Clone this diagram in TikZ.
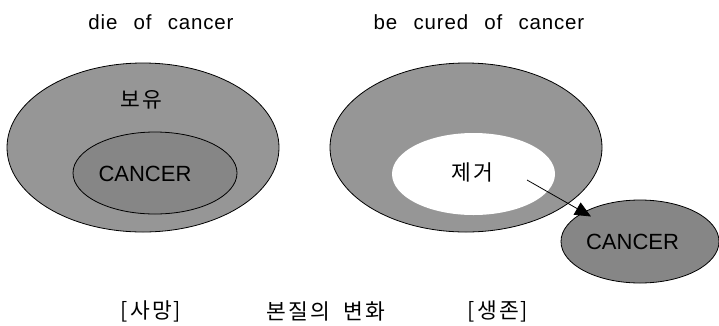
\documentclass[tikz,border=0pt]{standalone}
\usepackage{fontspec}
\setmainfont{Liberation Sans}
\newfontfamily\kofont{Noto Sans CJK KR}[LetterSpace=10,WordSpace=2]
\newfontfamily\latfont{Liberation Sans}[LetterSpace=4,WordSpace=2.5]
\usetikzlibrary{shapes.geometric,arrows.meta}
\definecolor{outergray}{RGB}{150,150,150}
\definecolor{innergray}{RGB}{134,134,134}
\tikzset{
  blob/.style={ellipse,draw=black,line width=0.8pt,inner sep=0pt},
  title/.style={font=\latfont\fontsize{20.5}{24}\selectfont,inner sep=0pt},
  kolabel/.style={font=\kofont\fontsize{21.5}{26}\selectfont,inner sep=0pt},
  caplabel/.style={font=\fontsize{22}{26}\selectfont,inner sep=0pt},
  link/.style={line width=0.8pt,-{Triangle[length=16pt,width=14pt]}}
}
\begin{document}
\begin{tikzpicture}[x=1pt,y=-1pt]
\useasboundingbox (0,0) rectangle (719,325);
% titles
\node[title] (t1) at (161,22) {die of cancer};
\node[title] (t2) at (479,22) {be cured of cancer};
% left
\node[blob,fill=outergray,minimum width=272pt,minimum height=169pt] (lbig) at (143,147.5) {};
\node[blob,fill=innergray,minimum width=164pt,minimum height=82pt] (lin) at (155,173) {};
\node[kolabel] (boyu) at (141,100) {보유};
\node[caplabel] (lc) at (145,174) {CANCER};
% right
\node[blob,fill=outergray,minimum width=272pt,minimum height=169pt] (rbig) at (466,147.5) {};
\node[ellipse,fill=white,inner sep=0pt,minimum width=163pt,minimum height=82pt] (rhole) at (473.5,174) {};
\node[kolabel] (jege) at (472.5,172) {제거};
\node[blob,fill=innergray,minimum width=158pt,minimum height=83pt] (rsmall) at (640,241.5) {};
\node[caplabel] (rc) at (632.5,242) {CANCER};
\coordinate (astart) at (527,180);
\coordinate (aend) at (591,216.5);
\draw[link] (astart) -- (aend);
% bottom
\node[kolabel] (b1) at (151,311) {[사망]};
\node[kolabel] (b2) at (326,311) {본질의 변화};
\node[kolabel] (b3) at (498,311) {[생존]};
\end{tikzpicture}
\end{document}
